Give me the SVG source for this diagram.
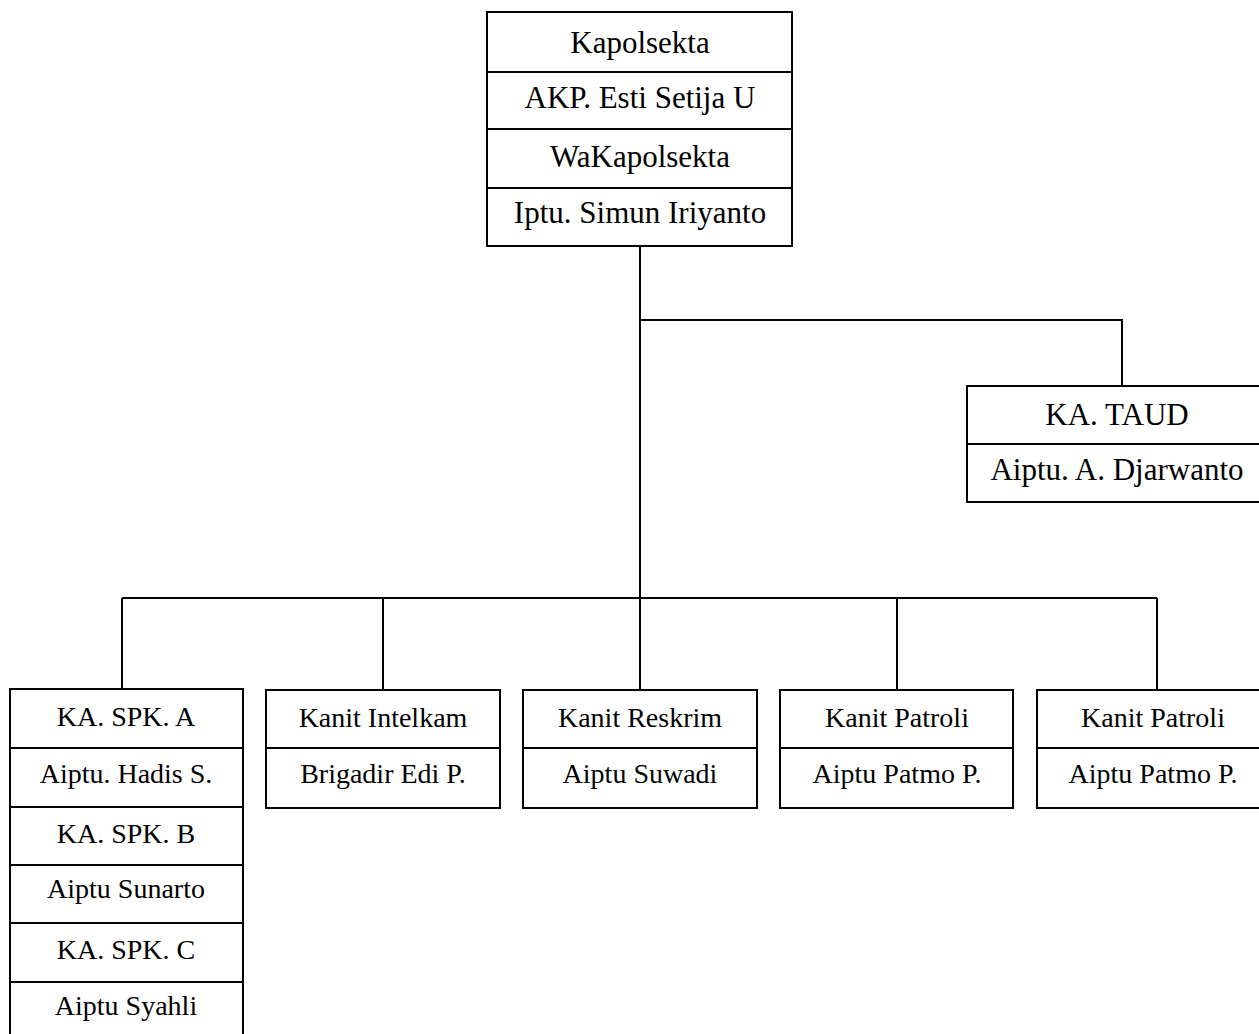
<svg xmlns="http://www.w3.org/2000/svg" width="1259" height="1034" viewBox="0 0 1259 1034">
<style>
.box{fill:#fff;stroke:#000;stroke-width:2}
.div{stroke:#000;stroke-width:2}
.t{font-family:"Liberation Serif","Times New Roman",serif;font-size:31px;fill:#000;text-anchor:middle}
.s{font-size:28px}
.c{fill:none;stroke:#000;stroke-width:2}
</style>
<rect width="1259" height="1034" fill="#fff"/>
<g id="connectors">
<path class="c" d="M640 246V690"/>
<path class="c" d="M640 320H1122V386"/>
<path class="c" d="M122 598H1157"/>
<path class="c" d="M122 598V689M383 598V690M897 598V690M1157 598V690"/>
</g>
<g id="kapolsekta">
<rect class="box" x="487" y="12" width="305" height="234"/>
<path class="div" d="M487 72H792M487 129H792M487 188H792"/>
<text class="t" x="640" y="53">Kapolsekta</text>
<text class="t" x="640" y="108">AKP. Esti Setija U</text>
<text class="t" x="640" y="167">WaKapolsekta</text>
<text class="t" x="640" y="223">Iptu. Simun Iriyanto</text>
</g>
<g id="taud">
<rect class="box" x="967" y="386" width="300" height="116"/>
<path class="div" d="M967 444H1267"/>
<text class="t" x="1117" y="425">KA. TAUD</text>
<text class="t" x="1117" y="480">Aiptu. A. Djarwanto</text>
</g>
<g id="spk">
<rect class="box" x="10" y="689" width="233" height="360"/>
<path class="div" d="M10 748H243M10 807H243M10 865H243M10 923H243M10 982H243"/>
<text class="t s" x="126" y="726">KA. SPK. A</text>
<text class="t s" x="126" y="783">Aiptu. Hadis S.</text>
<text class="t s" x="126" y="843">KA. SPK. B</text>
<text class="t s" x="126" y="898">Aiptu Sunarto</text>
<text class="t s" x="126" y="959">KA. SPK. C</text>
<text class="t s" x="126" y="1015">Aiptu Syahli</text>
</g>
<g id="intelkam">
<rect class="box" x="266" y="690" width="234" height="118"/>
<path class="div" d="M266 748H500"/>
<text class="t s" x="383" y="727">Kanit Intelkam</text>
<text class="t s" x="383" y="783">Brigadir Edi P.</text>
</g>
<g id="reskrim">
<rect class="box" x="523" y="690" width="234" height="118"/>
<path class="div" d="M523 748H757"/>
<text class="t s" x="640" y="727">Kanit Reskrim</text>
<text class="t s" x="640" y="783">Aiptu Suwadi</text>
</g>
<g id="patroli1">
<rect class="box" x="780" y="690" width="233" height="118"/>
<path class="div" d="M780 748H1013"/>
<text class="t s" x="897" y="727">Kanit Patroli</text>
<text class="t s" x="897" y="783">Aiptu Patmo P.</text>
</g>
<g id="patroli2">
<rect class="box" x="1037" y="690" width="234" height="118"/>
<path class="div" d="M1037 748H1271"/>
<text class="t s" x="1153" y="727">Kanit Patroli</text>
<text class="t s" x="1153" y="783">Aiptu Patmo P.</text>
</g>
</svg>
